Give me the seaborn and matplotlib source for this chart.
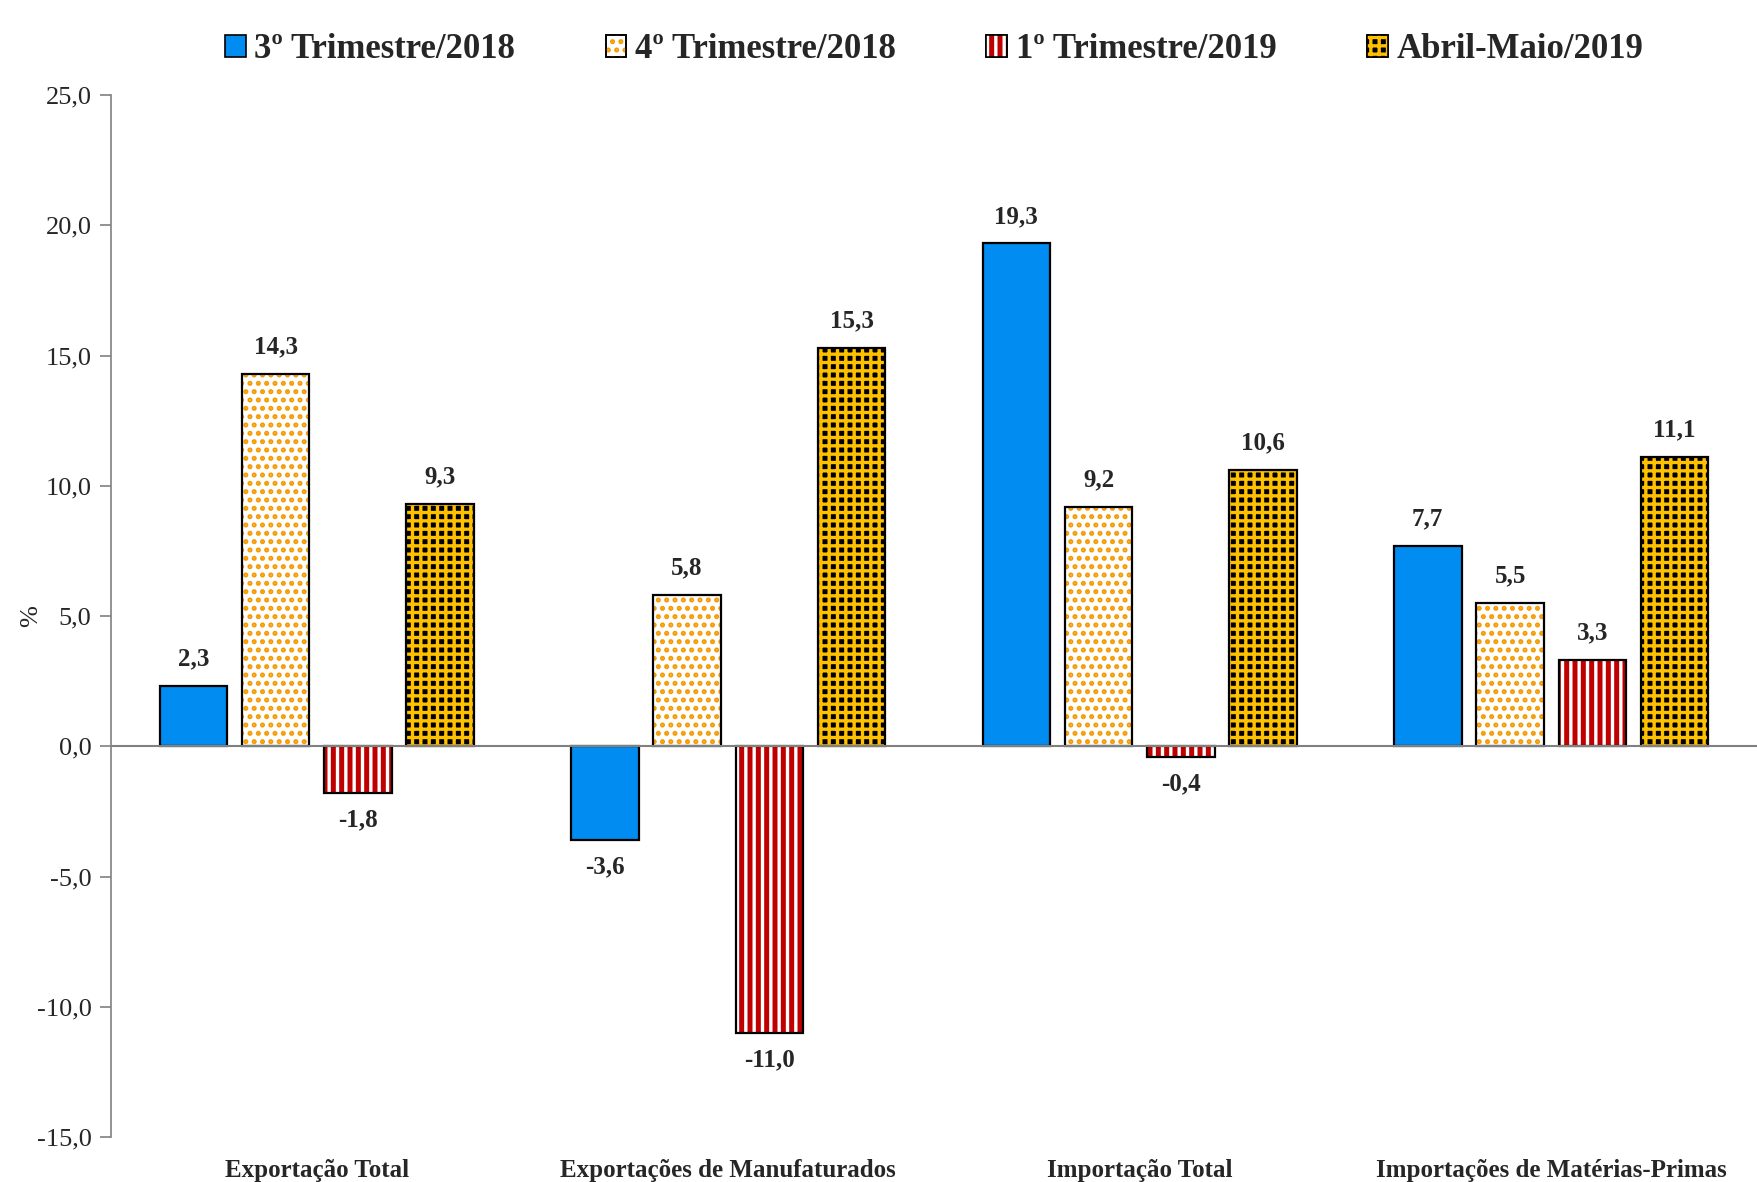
import numpy as np
import pandas as pd
import matplotlib
matplotlib.use('Agg')
import matplotlib.pyplot as plt
from matplotlib.patches import Rectangle
import seaborn as sns

# data
categorias = ['Exportação Total', 'Exportações de Manufaturados',
              'Importação Total', 'Importações de Matérias-Primas']
periodos = ['3º Trimestre/2018', '4º Trimestre/2018', '1º Trimestre/2019', 'Abril-Maio/2019']
tri3_2018 = [2.3, -3.6, 19.3, 7.7]
tri4_2018 = [14.3, 5.8, 9.2, 5.5]
tri1_2019 = [-1.8, -11.0, -0.4, 3.3]
abr_mai_2019 = [9.3, 15.3, 10.6, 11.1]
yticks = [-15, -10, -5, 0, 5, 10, 15, 20, 25]

df = pd.DataFrame({
    'categoria': categorias * 4,
    'periodo': np.repeat(periodos, 4),
    'valor': tri3_2018 + tri4_2018 + tri1_2019 + abr_mai_2019,
})

# face colour, hatch, hatch colour per series
estilos = {
    '3º Trimestre/2018': ('#008CF0', None, None),
    '4º Trimestre/2018': ('white', '..', '#F59A00'),
    '1º Trimestre/2019': ('#C00000', '||', 'white'),
    'Abril-Maio/2019': ('black', '++', '#FFC000'),
}

sns.set_theme(style='white')
plt.rcParams['font.family'] = ['Liberation Serif', 'DejaVu Serif']
plt.rcParams['hatch.linewidth'] = 2.4

fig = plt.figure(figsize=(17.57, 11.82), dpi=100)
ax = fig.add_axes([111 / 1757, 1 - 1137 / 1182, 1 - 111 / 1757, (1137 - 95) / 1182])

sns.barplot(data=df, x='categoria', y='valor', hue='periodo', order=categorias,
            hue_order=periodos, palette=[estilos[p][0] for p in periodos],
            saturation=1, gap=0.18, width=0.8, legend=False, ax=ax)

handles = []
for cont, per in zip(ax.containers, periodos):
    face, hatch, hcol = estilos[per]
    for bar, val in zip(cont, df.loc[df['periodo'] == per, 'valor']):
        bar.set_linewidth(0)
        x, y = bar.get_x(), bar.get_y()
        w, h = bar.get_width(), bar.get_height()
        if hatch:
            ax.add_patch(Rectangle((x, y), w, h, fill=False, hatch=hatch,
                                   edgecolor=hcol, linewidth=0, zorder=3))
        ax.add_patch(Rectangle((x, y), w, h, fill=False, edgecolor='black',
                               linewidth=1.6, zorder=4))
        txt = f'{val:.1f}'.replace('.', ',')
        if val >= 0:
            ax.text(x + w / 2, val + 0.6, txt, ha='center', va='bottom',
                    fontsize=18, fontweight='bold')
        else:
            ax.text(x + w / 2, val - 0.6, txt, ha='center', va='top',
                    fontsize=18, fontweight='bold')
    base = Rectangle((0, 0), 1, 1, facecolor=face, edgecolor='black', linewidth=1.2)
    if hatch:
        over = Rectangle((0, 0), 1, 1, fill=False, hatch=hatch, edgecolor=hcol, linewidth=0)
        edge = Rectangle((0, 0), 1, 1, fill=False, edgecolor='black', linewidth=1.2)
        handles.append((base, over, edge))
    else:
        handles.append(base)

ax.axhline(0, color='#808080', linewidth=1.5, zorder=5)
ax.set_ylim(-15, 25)
ax.set_xlim(-0.5, 3.5)
ax.set_yticks(yticks)
ax.set_yticklabels([f'{t:.1f}'.replace('.', ',') for t in yticks], fontsize=19)
ax.set_xlabel('')
ax.set_ylabel('%', fontsize=19)
ax.yaxis.set_label_coords(-0.042, 0.5)
ax.tick_params(axis='y', which='both', left=True, length=8, width=1.2, color='#808080', pad=6)
ax.tick_params(axis='x', length=0, pad=16)
for lab in ax.get_xticklabels():
    lab.set_fontsize(18)
    lab.set_fontweight('bold')
for s in ['top', 'right', 'bottom']:
    ax.spines[s].set_visible(False)
ax.spines['left'].set_color('#808080')
ax.spines['left'].set_linewidth(1.2)

leg = fig.legend(handles, periodos, loc='center', bbox_to_anchor=(934 / 1757, 1 - 50 / 1182),
                 ncol=4, frameon=False, handlelength=0.6, handleheight=0.6,
                 handletextpad=0.25, columnspacing=2.6,
                 prop={'size': 25, 'weight': 'bold'})

fig.savefig('out.png', dpi=100, facecolor='white')
